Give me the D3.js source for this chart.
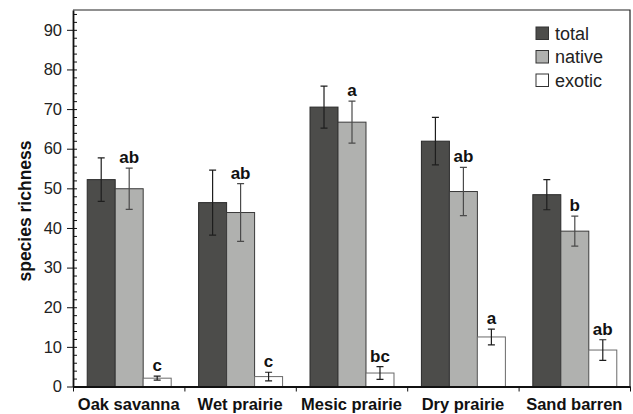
<!DOCTYPE html>
<html>
  <head>
    <meta charset="utf-8">
    <title>species richness</title>
    <script src="https://cdn.jsdelivr.net/npm/d3@7"></script>
    <style>
      body { margin: 0; background: #fff; }
      #chart { display: block; font-family: "Liberation Sans", Arial, Helvetica, sans-serif; }
      .axis path, .axis line { stroke: #111; }
      .axis text { fill: #222; font-size: 16.5px; }
      .letter { font-weight: bold; font-size: 17px; fill: #111; text-anchor: middle; }
    </style>
  </head>

  <body>
    <svg id="chart" width="633" height="414"></svg>

    <script>
      // data
      categories = ["Oak savanna", "Wet prairie", "Mesic prairie", "Dry prairie", "Sand barren"];
      series = ["total", "native", "exotic"];
      total = [52.2, 46.4, 70.5, 61.9, 48.4];
      totalErr = [5.5, 8.2, 5.3, 6.0, 3.8];
      native = [49.9, 43.9, 66.7, 49.2, 39.2];
      nativeErr = [5.2, 7.3, 5.3, 6.1, 3.8];
      exotic = [2.1, 2.5, 3.4, 12.5, 9.2];
      exoticErr = [0.5, 1.1, 1.6, 2.0, 2.6];
      nativeLetters = ["ab", "ab", "a", "ab", "b"];
      exoticLetters = ["c", "c", "bc", "a", "ab"];
      yTicks = [0, 10, 20, 30, 40, 50, 60, 70, 80, 90];

      fills = { total: "#4c4c4a", native: "#b0b1af", exotic: "#ffffff" };
      strokes = { total: "#2a2a2a", native: "#3a3a3a", exotic: "#6a6a6a" };
      errColors = { total: "#1e1e1e", native: "#4a4a4a", exotic: "#1e1e1e" };

      values = { total: total, native: native, exotic: exotic };
      errors = { total: totalErr, native: nativeErr, exotic: exoticErr };

      chart = d3.select("#chart");
      width = 633;
      height = 414;
      margin = { top: 10, right: 3, bottom: 27.5, left: 73 };

      x0 = d3.scaleBand()
        .domain(categories)
        .range([margin.left, width - margin.right]);
      x1 = d3.scaleBand()
        .domain(series)
        .range([0, x0.bandwidth()])
        .paddingOuter(0.49);
      y = d3.scaleLinear()
        .domain([0, 95])
        .range([height - margin.bottom, margin.top]);

      // frame (top and right)
      chart.append("path")
        .attr("d", "M" + margin.left + "," + margin.top + "H" + (width - margin.right) + "V" + y(0))
        .attr("fill", "none")
        .attr("stroke", "#222")
        .attr("stroke-width", 1.2);

      // bars
      rows = categories.map((c, i) => series.map(s => ({
        cat: c, s: s, v: values[s][i], e: errors[s][i]
      })));

      groups = chart.append("g")
        .selectAll("g")
        .data(rows)
        .join("g")
        .attr("transform", (d, i) => "translate(" + x0(categories[i]) + ",0)");

      groups.selectAll("rect")
        .data(d => d)
        .join("rect")
        .attr("x", d => x1(d.s) + 0.5)
        .attr("y", d => y(d.v))
        .attr("width", x1.bandwidth())
        .attr("height", d => y(0) - y(d.v))
        .attr("fill", d => fills[d.s])
        .attr("stroke", d => strokes[d.s])
        .attr("stroke-width", 1);

      // error bars
      cap = 3.5;
      groups.selectAll("path.err")
        .data(d => d)
        .join("path")
        .attr("class", "err")
        .attr("fill", "none")
        .attr("stroke", d => errColors[d.s])
        .attr("stroke-width", 1.2)
        .attr("d", d => {
          let cx = x1(d.s) + x1.bandwidth() / 2 + 0.5;
          let t = y(d.v + d.e), b = y(d.v - d.e);
          return "M" + (cx - cap) + "," + t + "H" + (cx + cap) +
            "M" + cx + "," + t + "V" + b +
            "M" + (cx - cap) + "," + b + "H" + (cx + cap);
        });

      // significance letters
      groups.append("text")
        .attr("class", "letter")
        .attr("x", x1("native") + x1.bandwidth() / 2 + 0.5)
        .attr("y", (d, i) => y(native[i] + nativeErr[i]) - 5)
        .text((d, i) => nativeLetters[i]);
      groups.append("text")
        .attr("class", "letter")
        .attr("x", x1("exotic") + x1.bandwidth() / 2 + 0.5)
        .attr("y", (d, i) => y(exotic[i] + exoticErr[i]) - 5)
        .text((d, i) => exoticLetters[i]);

      // y axis: minor ticks inside, major ticks outside
      chart.append("g")
        .attr("class", "axis")
        .attr("transform", "translate(" + margin.left + ",0)")
        .call(d3.axisRight(y).tickValues(d3.range(0, 95, 2)).tickSize(4).tickSizeOuter(0).tickFormat(""))
        .call(g => g.select(".domain").remove());
      chart.append("g")
        .attr("class", "axis")
        .attr("transform", "translate(" + margin.left + ",0)")
        .call(d3.axisLeft(y).tickValues(yTicks).tickSize(6).tickSizeOuter(0).tickPadding(5))
        .call(g => g.select(".domain").attr("stroke-width", 1.8));

      // x axis: ticks at category boundaries
      xb = d3.scaleLinear().domain([0, categories.length]).range(x0.range());
      chart.append("g")
        .attr("class", "axis")
        .attr("transform", "translate(0," + y(0) + ")")
        .call(d3.axisBottom(xb).tickValues(d3.range(0, categories.length + 1)).tickSize(5).tickSizeOuter(0).tickFormat(""))
        .call(g => g.select(".domain").attr("stroke-width", 1.8));
      chart.append("g")
        .attr("class", "axis")
        .attr("transform", "translate(0," + y(0) + ")")
        .call(d3.axisBottom(x0).tickSize(0).tickPadding(12))
        .call(g => g.select(".domain").remove())
        .selectAll("text")
        .style("font-weight", "bold")
        .style("font-size", "16.5px")
        .style("fill", "#111");

      // axis title
      chart.append("text")
        .attr("transform", "translate(31,211) rotate(-90)")
        .attr("text-anchor", "middle")
        .style("font-weight", "bold")
        .style("font-size", "17.5px")
        .style("fill", "#111")
        .text("species richness");

      // legend
      legend = chart.append("g")
        .attr("transform", "translate(536,27)")
        .selectAll("g")
        .data(series)
        .join("g")
        .attr("transform", (d, i) => "translate(0," + i * 23.5 + ")");
      legend.append("rect")
        .attr("width", 12.5)
        .attr("height", 12.5)
        .attr("fill", d => fills[d])
        .attr("stroke", "#333");
      legend.append("text")
        .attr("x", 19)
        .attr("y", 12.5)
        .style("font-size", "18px")
        .style("fill", "#222")
        .text(d => d);
    </script>
  </body>
</html>
